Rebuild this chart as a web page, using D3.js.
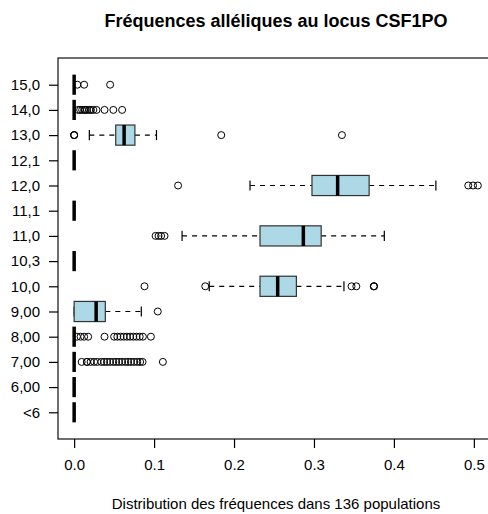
<!DOCTYPE html>
<html>
<head>
<meta charset="utf-8">
<script src="https://cdn.jsdelivr.net/npm/d3@7"></script>
<style>
  body { margin: 0; background: #fff; }
  svg { display: block; font-family: "Liberation Sans", Arial, sans-serif; }
  .tick text { font-size: 15px; fill: #000; }
</style>
</head>
<body>
<div id="chart"></div>
<script>

// 1. Data

const categories = ["<6", "6,00", "7,00", "8,00", "9,00", "10,0", "10,3",
  "11,0", "11,1", "12,0", "12,1", "13,0", "14,0", "15,0"]

const lowerWhisker  = [0, 0, 0, 0, 0,      0.169,  0, 0.135,  0, 0.22,   0, 0.019,  0, 0]
const lowerQuartile = [0, 0, 0, 0, 0,      0.2325, 0, 0.2325, 0, 0.2975, 0, 0.052,  0, 0]
const medians       = [0, 0, 0, 0, 0.0275, 0.2546, 0, 0.2867, 0, 0.3296, 0, 0.0625, 0, 0]
const upperQuartile = [0, 0, 0, 0, 0.039,  0.278,  0, 0.309,  0, 0.369,  0, 0.076,  0, 0]
const upperWhisker  = [0, 0, 0, 0, 0.084,  0.3375, 0, 0.388,  0, 0.4525, 0, 0.103,  0, 0]

const outliers = [
  [],
  [],
  [0.0094, 0.016, 0.016, 0.0206, 0.025, 0.029, 0.034, 0.0375, 0.041, 0.045, 0.049,
   0.0525, 0.056, 0.06, 0.064, 0.0675, 0.071, 0.075, 0.079, 0.0825, 0.0856, 0.111],
  [0.0035, 0.008, 0.0125, 0.0175, 0.038, 0.05, 0.054, 0.058, 0.062, 0.066, 0.07,
   0.074, 0.078, 0.082, 0.086, 0.096],
  [0.1046],
  [0.088, 0.164, 0.347, 0.353, 0.375, 0.375, 0.375],
  [],
  [0.1019, 0.1056, 0.1088, 0.1131],
  [],
  [0.13, 0.493, 0.499, 0.505],
  [],
  [0, 0, 0, 0.184, 0.335],
  [0.005, 0.0075, 0.01, 0.0125, 0.014, 0.016, 0.019, 0.021, 0.024, 0.028, 0.038, 0.049, 0.06],
  [0.004, 0.0125, 0.045]
]

const xTicks = [0, 0.1, 0.2, 0.3, 0.4, 0.5]
const title = "Fréquences alléliques au locus CSF1PO"
const xTitle = "Distribution des fréquences dans 136 populations"

const boxes = categories.map((c, i) => ({
  category: c,
  lo: lowerWhisker[i],
  q1: lowerQuartile[i],
  med: medians[i],
  q3: upperQuartile[i],
  hi: upperWhisker[i],
  out: outliers[i],
}))

// 2. Dimensions

let dimensions = {
  width: 488,
  height: 514,
  left: 58,
  right: 494,
  top: 58,
  bottom: 439,
}

// 3. Draw canvas

const svg = d3.select("#chart")
  .append("svg")
    .attr("width", dimensions.width)
    .attr("height", dimensions.height)

// 4. Scales (R style: 4% padding around the data range)

const xMax = d3.max(boxes, d => d3.max([d.hi, ...d.out]))
const xPad = xMax * 0.04
const xScale = d3.scaleLinear()
    .domain([-xPad, xMax + xPad])
    .range([dimensions.left, dimensions.right])

const yLin = d3.scaleLinear()
    .domain([0.5 - 0.56, categories.length + 0.5 + 0.56])
    .range([dimensions.bottom, dimensions.top])
const yScale = d3.scalePoint()
    .domain(categories)
    .range([yLin(1), yLin(categories.length)])
const unit = yLin(0) - yLin(1)
const boxHalf = unit * 0.4
const stapleHalf = boxHalf * 0.5

// 5. Draw data

const groups = svg.append("g")
  .selectAll("g")
  .data(boxes)
  .join("g")
    .attr("transform", d => `translate(0,${yScale(d.category)})`)

groups.append("line")
    .attr("x1", d => xScale(d.lo))
    .attr("x2", d => xScale(d.q1))
    .attr("stroke", "#000")
    .attr("stroke-width", 1.2)
    .attr("stroke-dasharray", "5,5")

groups.append("line")
    .attr("x1", d => xScale(d.q3))
    .attr("x2", d => xScale(d.hi))
    .attr("stroke", "#000")
    .attr("stroke-width", 1.2)
    .attr("stroke-dasharray", "5,5")

groups.selectAll(".staple")
  .data(d => [d.lo, d.hi])
  .join("line")
    .attr("class", "staple")
    .attr("x1", v => xScale(v))
    .attr("x2", v => xScale(v))
    .attr("y1", -stapleHalf)
    .attr("y2", stapleHalf)
    .attr("stroke", "#000")
    .attr("stroke-width", 1.2)

groups.filter(d => d.q3 > d.q1)
  .append("rect")
    .attr("x", d => xScale(d.q1))
    .attr("y", -boxHalf)
    .attr("width", d => xScale(d.q3) - xScale(d.q1))
    .attr("height", boxHalf * 2)
    .attr("fill", "lightblue")
    .attr("stroke", "#333")
    .attr("stroke-width", 1.2)

groups.append("line")
    .attr("x1", d => xScale(d.med))
    .attr("x2", d => xScale(d.med))
    .attr("y1", -boxHalf)
    .attr("y2", boxHalf)
    .attr("stroke", "#000")
    .attr("stroke-width", 3.5)

groups.selectAll("circle")
  .data(d => d.out)
  .join("circle")
    .attr("cx", v => xScale(v))
    .attr("r", 3.5)
    .attr("fill", "none")
    .attr("stroke", "#000")
    .attr("stroke-width", 1)

// 6. Draw peripherals

svg.append("rect")
    .attr("x", dimensions.left)
    .attr("y", dimensions.top)
    .attr("width", dimensions.right - dimensions.left)
    .attr("height", dimensions.bottom - dimensions.top)
    .attr("fill", "none")
    .attr("stroke", "#222")
    .attr("stroke-width", 1.3)

const xAxis = svg.append("g")
    .attr("transform", `translate(0,${dimensions.bottom})`)
    .call(d3.axisBottom(xScale)
      .tickValues(xTicks)
      .tickFormat(d3.format(".1f"))
      .tickSize(9)
      .tickSizeOuter(0)
      .tickPadding(11))
xAxis.select(".domain").remove()

const yAxis = svg.append("g")
    .attr("transform", `translate(${dimensions.left},0)`)
    .call(d3.axisLeft(yScale)
      .tickSize(9)
      .tickSizeOuter(0)
      .tickPadding(9))
yAxis.select(".domain").remove()

svg.selectAll(".tick line").attr("stroke", "#000").attr("stroke-width", 1.2)

svg.append("text")
    .attr("x", (dimensions.left + dimensions.right) / 2)
    .attr("y", 26.5)
    .attr("text-anchor", "middle")
    .style("font-size", "18px")
    .style("font-weight", "bold")
    .text(title)

svg.append("text")
    .attr("x", (dimensions.left + dimensions.right) / 2)
    .attr("y", 509)
    .attr("text-anchor", "middle")
    .style("font-size", "15px")
    .text(xTitle)

</script>
</body>
</html>
